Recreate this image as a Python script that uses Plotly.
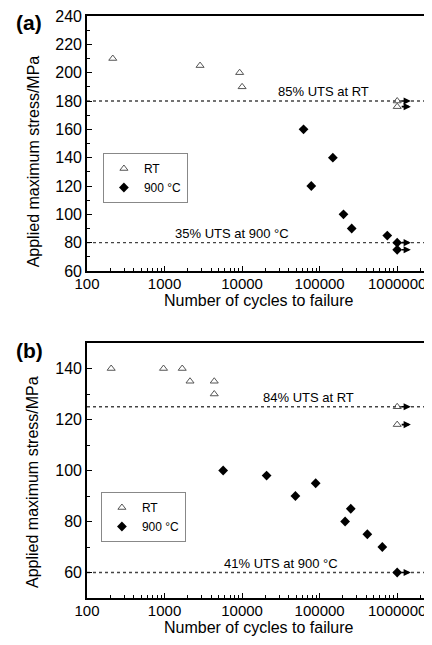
import math
import plotly.graph_objects as go

# ---------------- data ----------------
# panel (a)
a_rt_cycles = [215, 2870, 9300, 10000, 1000000, 1000000]
a_rt_stress = [210, 205, 200, 190, 180, 176]
a_rt_runout = [False, False, False, False, True, True]

a_hot_cycles = [62000, 78000, 148000, 203000, 259000, 745000, 1000000, 1000000]
a_hot_stress = [160, 120, 140, 100, 90, 85, 80, 75]
a_hot_runout = [False, False, False, False, False, False, True, True]

a_ref_values = [180, 80]
a_ref_labels = ["85% UTS at RT", "35% UTS at 900 °C"]

# panel (b)
b_rt_cycles = [205, 970, 1690, 2130, 4375, 4375, 1000000, 1000000]
b_rt_stress = [140, 140, 140, 135, 135, 130, 125, 118]
b_rt_runout = [False, False, False, False, False, False, True, True]

b_hot_cycles = [5700, 20700, 48700, 88900, 213000, 252000, 412000, 643000, 1000000]
b_hot_stress = [100, 98, 90, 95, 80, 85, 75, 70, 60]
b_hot_runout = [False, False, False, False, False, False, False, False, True]

b_ref_values = [125, 60]
b_ref_labels = ["84% UTS at RT", "41% UTS at 900 °C"]

x_tickvals = [100, 1000, 10000, 100000, 1000000]
x_ticktext = ["100", "1000", "10000", "100000", "1000000"]
a_y_ticks = [60, 80, 100, 120, 140, 160, 180, 200, 220, 240]
b_y_ticks = [60, 80, 100, 120, 140]

series_names = ["RT", "900 °C"]

# ---------------- style / layout ----------------
FONT = "Liberation Sans, Arial, sans-serif"
PAGE_OFF = 8                      # browser default body margin
W, H = 432 - PAGE_OFF, 645 - PAGE_OFF
ML, MR, MT, MB = 87 - PAGE_OFF, 0, 16 - PAGE_OFF, 47
plot_h = H - MT - MB
gap_top = (598 - 271) / plot_h      # bottom of panel (a) in paper
gap_bot = (598 - 343) / plot_h      # top of panel (b) in paper
X_RANGE = [2, 2 + (W - ML - MR) / 78.0]
RUNOUT_FACTOR = 1.5

minor_x = [k * 10 ** d for d in range(2, 7) for k in range(2, 10)]

rt_marker = dict(symbol="triangle-up-open", size=7, color="#555555", line=dict(width=1))
hot_marker = dict(symbol="diamond", size=7.5, color="black")

fig = go.Figure()

def add_panel(xa, ya, legend, rt_c, rt_s, rt_r, hot_c, hot_s, hot_r):
    fig.add_trace(go.Scatter(x=rt_c, y=rt_s, mode="markers", name=series_names[0],
                             marker=rt_marker, xaxis=xa, yaxis=ya, legend=legend))
    fig.add_trace(go.Scatter(x=hot_c, y=hot_s, mode="markers", name=series_names[1],
                             marker=hot_marker, xaxis=xa, yaxis=ya, legend=legend))
    for cs, ss, rs in ((rt_c, rt_s, rt_r), (hot_c, hot_s, hot_r)):
        for c, s, r in zip(cs, ss, rs):
            if r:
                fig.add_annotation(x=math.log10(c * RUNOUT_FACTOR), y=s,
                                   ax=math.log10(c), ay=s,
                                   xref=xa, yref=ya, axref=xa, ayref=ya,
                                   showarrow=True, arrowhead=2, arrowsize=0.9,
                                   arrowwidth=1.6, arrowcolor="black",
                                   startstandoff=3, text="")

add_panel("x", "y", "legend", a_rt_cycles, a_rt_stress, a_rt_runout,
          a_hot_cycles, a_hot_stress, a_hot_runout)
add_panel("x2", "y2", "legend2", b_rt_cycles, b_rt_stress, b_rt_runout,
          b_hot_cycles, b_hot_stress, b_hot_runout)

# reference (UTS fraction) lines and labels
label_pos_a = [5.05, 3.87]
label_pos_b = [4.85, 4.50]
for ya, xa, vals, labs, lpos in (("y", "x", a_ref_values, a_ref_labels, label_pos_a),
                                 ("y2", "x2", b_ref_values, b_ref_labels, label_pos_b)):
    for v, lab, lx in zip(vals, labs, lpos):
        fig.add_shape(type="line", xref=f"{xa} domain", yref=ya, x0=0, x1=1, y0=v, y1=v,
                      line=dict(color="#444444", width=1.3, dash="dot"), layer="below")
        fig.add_annotation(x=lx, y=v, xref=xa, yref=ya, text=lab, showarrow=False,
                           yanchor="bottom", yshift=0,
                           font=dict(family=FONT, size=13, color="black"))

axis_common = dict(showline=True, linecolor="black", linewidth=1.6, mirror=True,
                   ticks="inside", ticklen=5, tickwidth=1.2, tickcolor="black",
                   showgrid=False, zeroline=False, ticklabeloverflow="allow",
                   tickfont=dict(family=FONT, size=16, color="black"))

xaxis_common = dict(axis_common, type="log", range=X_RANGE,
                    tickvals=x_tickvals, ticktext=x_ticktext,
                    ticklabelstandoff=-2,
                    tickfont=dict(family=FONT, size=15, color="black"),
                    minor=dict(ticks="inside", ticklen=3, tickwidth=1, tickcolor="black",
                               tickvals=minor_x, showgrid=False))

fig.update_layout(
    width=W, height=H,
    margin=dict(l=ML, r=MR, t=MT, b=MB),
    paper_bgcolor="white", plot_bgcolor="white",
    font=dict(family=FONT, color="black"),
    xaxis=dict(xaxis_common, domain=[0, 1], anchor="y"),
    yaxis=dict(axis_common, domain=[gap_top, 1], anchor="x", range=[60, 240],
               tickvals=a_y_ticks,
               minor=dict(ticks="inside", ticklen=3, dtick=10, tickcolor="black")),
    xaxis2=dict(xaxis_common, domain=[0, 1], anchor="y2"),
    yaxis2=dict(axis_common, domain=[0, gap_bot], anchor="x2", range=[50, 150],
                tickvals=b_y_ticks,
                minor=dict(ticks="inside", ticklen=3, dtick=10, tickcolor="black")),
    legend=dict(x=(103 - 87) / (W - ML), y=(598 - 153) / plot_h, xanchor="left", yanchor="top",
                bordercolor="#888888", borderwidth=1, bgcolor="white",
                font=dict(family=FONT, size=12), itemwidth=30, tracegroupgap=0),
    legend2=dict(x=(101 - 87) / (W - ML), y=(598 - 492) / plot_h, xanchor="left", yanchor="top",
                 bordercolor="#888888", borderwidth=1, bgcolor="white",
                 font=dict(family=FONT, size=12), itemwidth=30, tracegroupgap=0),
    showlegend=True,
)

# y axis titles, x axis titles and panel labels
ytitle = "Applied maximum stress/MPa"
xtitle = "Number of cycles to failure"
for ya, xa, ycen in (("y", "x", 0.43), ("y2", "x2", 0.455)):
    fig.add_annotation(text=ytitle, textangle=-90, xref=f"{xa} domain", yref=f"{ya} domain",
                       x=0, y=ycen, xshift=-54, showarrow=False, xanchor="center",
                       yanchor="middle", font=dict(family=FONT, size=16))
    fig.add_annotation(text=xtitle, xref=f"{xa} domain", yref=f"{ya} domain",
                       x=0.5, y=0, yshift=-29, showarrow=False, xanchor="center",
                       yanchor="middle", font=dict(family=FONT, size=16))
for lab, ya, xa, ys in (("<b>(a)</b>", "y", "x", -6), ("<b>(b)</b>", "y2", "x2", -7)):
    fig.add_annotation(text=lab, xref=f"{xa} domain", yref=f"{ya} domain",
                       x=0, y=1, xshift=-58, yshift=ys, showarrow=False,
                       xanchor="center", yanchor="middle",
                       font=dict(family=FONT, size=21, color="black"))

fig.write_html("out.html")
